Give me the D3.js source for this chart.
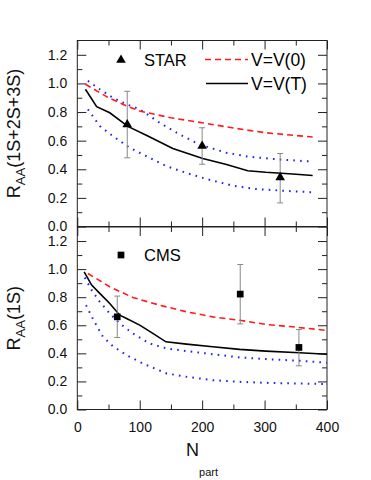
<!DOCTYPE html>
<html>
<head>
<meta charset="utf-8">
<script src="https://cdn.jsdelivr.net/npm/d3@7"></script>
<style>
  body { margin: 0; background: #fff; }
  svg { display: block; font-family: "Liberation Sans", Arial, sans-serif; }
</style>
</head>
<body>
<div id="chart"></div>
<script>
// tick values
const xMajor = [0, 100, 200, 300, 400];
const xMinor = [50, 150, 250, 350];
const yMajor = [0, 0.2, 0.4, 0.6, 0.8, 1.0, 1.2];
const yMinor = [0.1, 0.3, 0.5, 0.7, 0.9, 1.1];

// top panel: STAR data, R_AA(1S+2S+3S)
const starN = [80, 200, 325];
const starR = [0.72, 0.57, 0.35];
const starLo = [0.48, 0.435, 0.165];
const starHi = [0.945, 0.69, 0.51];

const topV0N = [13, 50, 82, 100, 150, 200, 250, 302, 350, 377];
const topV0R = [0.994, 0.90, 0.837, 0.807, 0.76, 0.725, 0.688, 0.655, 0.636, 0.626];
const topVTN = [13, 31, 52, 81, 113, 153, 201, 239, 273, 302, 345, 377];
const topVTR = [0.959, 0.837, 0.795, 0.70, 0.632, 0.545, 0.475, 0.433, 0.39, 0.379, 0.367, 0.356];
const topUpN = [17, 36, 57, 79, 100, 132, 164, 196, 239, 276, 324, 377];
const topUpR = [1.018, 0.959, 0.90, 0.854, 0.819, 0.725, 0.643, 0.573, 0.515, 0.487, 0.468, 0.454];
const topLoN = [17, 36, 57, 84, 111, 143, 175, 207, 249, 286, 329, 377];
const topLoR = [0.819, 0.702, 0.632, 0.55, 0.491, 0.421, 0.374, 0.332, 0.285, 0.262, 0.25, 0.239];

// bottom panel: CMS data, R_AA(1S)
const cmsN = [64, 261, 355];
const cmsR = [0.66, 0.822, 0.442];
const cmsLo = [0.513, 0.61, 0.311];
const cmsHi = [0.808, 1.033, 0.57];

const botV0N = [17, 52, 89, 132, 175, 217, 260, 302, 345, 400];
const botV0R = [0.969, 0.874, 0.798, 0.743, 0.696, 0.66, 0.636, 0.606, 0.589, 0.563];
const botVTN = [11, 23, 36, 52, 68, 79, 100, 121, 142, 175, 217, 260, 302, 356, 400];
const botVTR = [0.981, 0.886, 0.827, 0.755, 0.672, 0.648, 0.601, 0.542, 0.482, 0.466, 0.447, 0.428, 0.416, 0.404, 0.394];
const botUpN = [12, 23, 36, 52, 68, 89, 116, 143, 175, 217, 260, 302, 356, 400];
const botUpR = [0.94, 0.85, 0.767, 0.684, 0.613, 0.542, 0.47, 0.435, 0.416, 0.394, 0.371, 0.359, 0.347, 0.333];
const botLoN = [14, 26, 41, 57, 79, 105, 143, 175, 217, 260, 302, 356, 400];
const botLoR = [0.743, 0.637, 0.518, 0.451, 0.387, 0.328, 0.257, 0.233, 0.209, 0.197, 0.19, 0.185, 0.181];

const width = 371, height = 480;
const svg = d3.select("#chart").append("svg")
  .attr("width", width)
  .attr("height", height);

const x = d3.scaleLinear().domain([0, 400]).range([77.3, 327]);
const frameColor = "#222";

function zip(N, R) { return N.map((n, i) => [n, R[i]]); }

function panel(y0, y1, opts) {
  const y = d3.scaleLinear().domain([0, 1.3]).range([y0, y1]);
  const g = svg.append("g");

  // frame
  g.append("rect")
    .attr("x", x(0)).attr("y", y1)
    .attr("width", x(400) - x(0)).attr("height", y0 - y1)
    .attr("fill", "none").attr("stroke", frameColor).attr("stroke-width", 1);

  const styleAxis = sel => {
    sel.select(".domain").remove();
    sel.selectAll("line").attr("stroke", frameColor);
    sel.selectAll("text").attr("font-size", 14).attr("fill", "#111");
  };

  // left
  g.append("g").attr("transform", `translate(${x(0)},0)`)
    .call(d3.axisLeft(y).tickValues(yMajor).tickSize(-9).tickPadding(10).tickFormat(d3.format(".1f")))
    .call(styleAxis);
  g.append("g").attr("transform", `translate(${x(0)},0)`)
    .call(d3.axisLeft(y).tickValues(yMinor).tickSize(-5).tickFormat(""))
    .call(styleAxis);
  // right
  g.append("g").attr("transform", `translate(${x(400)},0)`)
    .call(d3.axisRight(y).tickValues(yMajor).tickSize(-9).tickFormat(""))
    .call(styleAxis);
  g.append("g").attr("transform", `translate(${x(400)},0)`)
    .call(d3.axisRight(y).tickValues(yMinor).tickSize(-5).tickFormat(""))
    .call(styleAxis);
  // bottom
  g.append("g").attr("transform", `translate(0,${y0})`)
    .call(d3.axisBottom(x).tickValues(xMajor).tickSize(-9).tickPadding(13)
      .tickFormat(opts.xLabels ? d3.format("d") : ""))
    .call(styleAxis);
  g.append("g").attr("transform", `translate(0,${y0})`)
    .call(d3.axisBottom(x).tickValues(xMinor).tickSize(-5).tickFormat(""))
    .call(styleAxis);
  // top
  g.append("g").attr("transform", `translate(0,${y1})`)
    .call(d3.axisTop(x).tickValues(xMajor).tickSize(-9).tickFormat(""))
    .call(styleAxis);
  g.append("g").attr("transform", `translate(0,${y1})`)
    .call(d3.axisTop(x).tickValues(xMinor).tickSize(-5).tickFormat(""))
    .call(styleAxis);

  const line = d3.line().x(d => x(d[0])).y(d => y(d[1]));

  // blue dotted bands
  opts.dotted.forEach(data => {
    g.append("path").attr("d", line(data))
      .attr("fill", "none").attr("stroke", "#1f1fff")
      .attr("stroke-width", 2).attr("stroke-dasharray", "1.6,5.2");
  });
  // red dashed V=V(0)
  g.append("path").attr("d", line(opts.v0))
    .attr("fill", "none").attr("stroke", "#ff1a1a")
    .attr("stroke-width", 1.6).attr("stroke-dasharray", "6,4");
  // black solid V=V(T)
  g.append("path").attr("d", line(opts.vT))
    .attr("fill", "none").attr("stroke", "#000")
    .attr("stroke-width", 1.6);

  // error bars
  const pts = opts.N.map((n, i) => ({ n, r: opts.R[i], lo: opts.lo[i], hi: opts.hi[i] }));
  const eb = g.append("g").attr("stroke", "#888").attr("stroke-width", 1);
  eb.selectAll("line.v").data(pts).join("line")
    .attr("x1", d => x(d.n)).attr("x2", d => x(d.n))
    .attr("y1", d => y(d.lo)).attr("y2", d => y(d.hi));
  eb.selectAll("line.lo").data(pts).join("line")
    .attr("x1", d => x(d.n) - 3).attr("x2", d => x(d.n) + 3)
    .attr("y1", d => y(d.lo)).attr("y2", d => y(d.lo));
  eb.selectAll("line.hi").data(pts).join("line")
    .attr("x1", d => x(d.n) - 3).attr("x2", d => x(d.n) + 3)
    .attr("y1", d => y(d.hi)).attr("y2", d => y(d.hi));

  const sym = d3.symbol().type(opts.symbol).size(opts.symbol === d3.symbolTriangle ? 40 : 45);
  g.selectAll("path.pt").data(pts).join("path")
    .attr("transform", d => `translate(${x(d.n)},${y(d.r) + (opts.symbol === d3.symbolTriangle ? 1 : 0)})`)
    .attr("d", sym()).attr("fill", "#000");

  // legend entry for data
  g.append("path").attr("d", sym())
    .attr("transform", `translate(121,${opts.legY})`).attr("fill", "#000");
  g.append("text").attr("x", 144).attr("y", opts.legY + 6)
    .attr("font-size", 16.5).text(opts.name);

  // y label
  const t = g.append("text")
    .attr("transform", `translate(20,${(y0 + y1) / 2}) rotate(-90)`)
    .attr("text-anchor", "middle").attr("font-size", 18).attr("fill", "#111");
  t.append("tspan").text("R");
  t.append("tspan").attr("dy", 5).attr("font-size", 13).text("AA");
  t.append("tspan").attr("dy", -5).text(opts.yLabel);
  return y;
}

panel(226.5, 40.5, {
  xLabels: false,
  N: starN, R: starR, lo: starLo, hi: starHi,
  v0: zip(topV0N, topV0R), vT: zip(topVTN, topVTR),
  dotted: [zip(topUpN, topUpR), zip(topLoN, topLoR)],
  symbol: d3.symbolTriangle, name: "STAR", legY: 60,
  yLabel: "(1S+2S+3S)"
});

panel(409.5, 227, {
  xLabels: true,
  N: cmsN, R: cmsR, lo: cmsLo, hi: cmsHi,
  v0: zip(botV0N, botV0R), vT: zip(botVTN, botVTR),
  dotted: [zip(botUpN, botUpR), zip(botLoN, botLoR)],
  symbol: d3.symbolSquare, name: "CMS", legY: 255,
  yLabel: "(1S)"
});

// model legend (top panel)
const leg = svg.append("g");
leg.append("line").attr("x1", 205).attr("x2", 248).attr("y1", 59.5).attr("y2", 59.5)
  .attr("stroke", "#ff1a1a").attr("stroke-width", 1.6).attr("stroke-dasharray", "6,4");
leg.append("text").attr("x", 251).attr("y", 65.5).attr("font-size", 17.5).text("V=V(0)");
leg.append("line").attr("x1", 206).attr("x2", 248).attr("y1", 83.5).attr("y2", 83.5)
  .attr("stroke", "#000").attr("stroke-width", 1.4);
leg.append("text").attr("x", 251).attr("y", 89.5).attr("font-size", 17.5).text("V=V(T)");

// x label
const xl = svg.append("text").attr("x", 202).attr("y", 456)
  .attr("text-anchor", "middle").attr("font-size", 18).attr("fill", "#111");
xl.append("tspan").text("N");
xl.append("tspan").attr("dy", 20).attr("font-size", 11).text("part");
</script>
</body>
</html>
